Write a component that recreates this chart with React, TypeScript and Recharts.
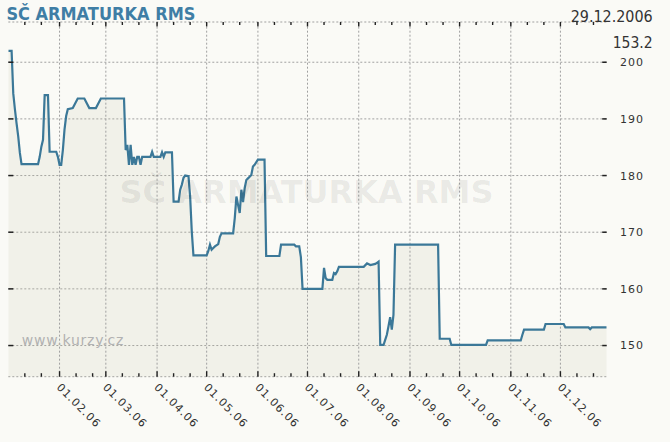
import React from 'react';
import { ComposedChart, Area, Line, XAxis, YAxis, CartesianGrid, ReferenceLine } from 'recharts';

const title = 'SČ ARMATURKA RMS';
const lastDate = '29.12.2006';
const lastPrice = '153.2';
const source = 'www.kurzy.cz';

// dd.mm (2006) of every point where the price line changes course
const dates = [
  '01.01', '03.01', '04.01', '05.01', '06.01', '07.01', '08.01', '09.01', '19.01', '20.01',
  '21.01', '22.01', '23.01', '25.01', '26.01', '30.01', '31.01', '01.02', '02.02', '03.02',
  '04.02', '05.02', '06.02', '09.02', '12.02', '16.02', '19.02', '23.02', '26.02', '12.03',
  '13.03', '14.03', '15.03', '16.03', '17.03', '18.03', '19.03', '20.03', '21.03', '22.03',
  '23.03', '28.03', '29.03', '30.03', '03.04', '04.04', '05.04', '06.04', '10.04', '11.04',
  '14.04', '15.04', '16.04', '17.04', '18.04', '20.04', '21.04', '22.04', '23.04', '01.05',
  '02.05', '03.05', '04.05', '05.05', '06.05', '08.05', '09.05', '10.05', '17.05', '18.05',
  '19.05', '20.05', '21.05', '22.05', '23.05', '24.05', '25.05', '26.05', '27.05', '28.05',
  '29.05', '30.05', '01.06', '05.06', '06.06', '14.06', '15.06', '23.06', '24.06', '26.06',
  '27.06', '28.06', '10.07', '11.07', '12.07', '13.07', '16.07', '17.07', '18.07', '19.07',
  '20.07', '04.08', '06.08', '08.08', '11.08', '12.08', '13.08', '14.08', '16.08', '17.08',
  '18.08', '19.08', '20.08', '21.08', '22.08', '23.08', '18.09', '19.09', '25.09', '26.09',
  '17.10', '18.10', '07.11', '08.11', '09.11', '21.11', '22.11', '03.12', '04.12', '18.12',
  '19.12', '20.12', '29.12',
];

const prices = [
  202, 202, 194.5, 191.7, 189.2, 186.9, 184, 182, 182, 183.3,
  185.1, 186.3, 194.2, 194.2, 184.2, 184.2, 183.3, 181.9, 181.9, 184.5,
  188.1, 190.5, 191.7, 191.9, 193.6, 193.6, 191.9, 191.9, 193.6, 193.6,
  184.5, 185.4, 181.9, 185.4, 181.9, 183.3, 181.9, 183.3, 183.3, 181.9,
  183.3, 183.3, 184.2, 183.3, 183.3, 184.1, 183.3, 184.1, 184.1, 175.4,
  175.4, 177.5, 178.4, 179.6, 180, 179.9, 176.3, 170.1, 165.9, 165.9,
  166.7, 167.8, 166.9, 167.2, 167.5, 167.9, 169.2, 169.8, 169.8, 172.5,
  176.3, 174.8, 173.4, 177.5, 175.3, 177.8, 179.2, 179.5, 179.8, 180.1,
  181.6, 181.9, 182.8, 182.8, 165.8, 165.8, 167.8, 167.8, 167.5, 167.5,
  165.6, 160, 160, 163.7, 161.9, 161.6, 161.6, 162.8, 162.6, 163.1,
  163.9, 163.9, 164.5, 164.2, 164.4, 164.6, 164.8, 150.1, 150.1, 151,
  151.9, 153.4, 155, 152.8, 155.4, 167.8, 167.8, 151.2, 151.2, 150.1,
  150.1, 150.9, 150.9, 151.9, 152.8, 152.8, 153.8, 153.8, 153.2, 153.2,
  152.9, 153.2, 153.2,
];

const yTicks = [150, 160, 170, 180, 190, 200];
const monthLabels = [
  '01.02.06', '01.03.06', '01.04.06', '01.05.06', '01.06.06', '01.07.06',
  '01.08.06', '01.09.06', '01.10.06', '01.11.06', '01.12.06',
];
const minorTickDays = [1, 11, 21];

const lineColor = '#3b7898';
const titleColor = '#3f7ea5';
const font = 'DejaVu Sans';

const toDay = (s: string) => {
  const [d, m] = s.split('.').map(Number);
  return (Date.UTC(2006, m - 1, d) - Date.UTC(2006, 0, 1)) / 86400000;
};

const data = dates.map((d, i) => ({ day: toDay(d), price: prices[i] }));
const lastDay = toDay('29.12');
const monthDays = monthLabels.map((l) => toDay(l.slice(0, 5)));
const xTicks: number[] = [];
for (let m = 1; m <= 12; m++) {
  minorTickDays.forEach((d) => {
    const day = toDay(`${d}.${m}`);
    if (day > 0 && day <= lastDay) xTicks.push(day);
  });
}

const BottomTick = (props: any) => {
  const { x, y, payload } = props;
  const idx = monthDays.indexOf(payload.value);
  const major = idx >= 0;
  return (
    <g>
      <line x1={x} x2={x} y1={y} y2={y - (major ? 5.5 : 3.5)} stroke="#222" strokeWidth={1.4} />
      {major && (
        <text
          transform={`translate(${x - 3.5},${y + 11.3}) rotate(45)`}
          fontFamily={font}
          fontSize={11}
          letterSpacing={1}
          fill="#333"
        >
          {monthLabels[idx]}
        </text>
      )}
    </g>
  );
};

const TopTick = (props: any) => {
  const { x, y, payload } = props;
  const major = monthDays.includes(payload.value);
  return <line x1={x} x2={x} y1={y} y2={y + (major ? 4.5 : 3)} stroke="#222" strokeWidth={1.4} />;
};

const RightTick = (props: any) => {
  const { x, y, payload } = props;
  return (
    <g>
      <line x1={x - 4.5} x2={x} y1={y} y2={y} stroke="#222" strokeWidth={1.5} />
      <text x={x + 13.3} y={y} dy="0.36em" fontFamily={font} fontSize={11} letterSpacing={1} fill="#333">
        {payload.value}
      </text>
    </g>
  );
};

const LeftTick = (props: any) => {
  const { x, y } = props;
  return <line x1={x} x2={x + 5} y1={y} y2={y} stroke="#222" strokeWidth={1.5} />;
};

export default function App() {
  return (
    <div style={{ position: 'absolute', left: 0, top: 0, width: 670, height: 442, background: '#fafaf6' }}>
      <ComposedChart width={670} height={442} data={data} margin={{ top: 21, right: 0, bottom: 0, left: 7.3 }}>
        <XAxis
          dataKey="day"
          type="number"
          domain={[0, lastDay]}
          allowDataOverflow
          ticks={xTicks}
          interval={0}
          height={65.3}
          tickSize={0}
          tickMargin={0}
          axisLine={false}
          tickLine={false}
          tick={(p: any) => <BottomTick {...p} />}
        />
        <XAxis
          xAxisId="top"
          orientation="top"
          dataKey="day"
          type="number"
          domain={[0, lastDay]}
          allowDataOverflow
          ticks={xTicks}
          interval={0}
          height={1}
          tickSize={0}
          tickMargin={0}
          axisLine={false}
          tickLine={false}
          tick={(p: any) => <TopTick {...p} />}
        />
        <YAxis
          orientation="right"
          type="number"
          domain={[144.5, 207.1]}
          allowDataOverflow
          ticks={yTicks}
          interval={0}
          width={63.3}
          tickSize={0}
          tickMargin={0}
          axisLine={false}
          tickLine={false}
          tick={(p: any) => <RightTick {...p} />}
        />
        <YAxis
          yAxisId="l"
          orientation="left"
          type="number"
          domain={[144.5, 207.1]}
          allowDataOverflow
          ticks={yTicks}
          interval={0}
          width={1}
          tickSize={0}
          tickMargin={0}
          axisLine={false}
          tickLine={false}
          tick={(p: any) => <LeftTick {...p} />}
        />
        <Area
          dataKey="price"
          type="linear"
          stroke="none"
          fill="rgb(200,200,165)"
          fillOpacity={0.16}
          isAnimationActive={false}
        />
        <CartesianGrid vertical={false} stroke="#a0a0a0" strokeDasharray="2 2" />
        {monthDays.map((d) => (
          <ReferenceLine key={d} x={d} stroke="#a0a0a0" strokeDasharray="2 2" />
        ))}
        <Line
          dataKey="price"
          type="linear"
          stroke={lineColor}
          strokeWidth={2.2}
          dot={false}
          isAnimationActive={false}
        />
      </ComposedChart>
      <svg width={670} height={442} style={{ position: 'absolute', left: 0, top: 0, pointerEvents: 'none' }}>
        <text x={306.5} y={203} textAnchor="middle" fontFamily={font} fontWeight="bold" fontSize={32} fill="rgba(0,0,0,0.075)">
          {title}
        </text>
        <text x={21.7} y={345} fontFamily={font} fontSize={14} letterSpacing={0.8} fill="#b2b2b2">
          {source}
        </text>
        <text
          x={6.4}
          y={19.5}
          fontFamily={font}
          fontWeight="bold"
          fontSize={18}
          textLength={189}
          lengthAdjust="spacingAndGlyphs"
          fill={titleColor}
        >
          {title}
        </text>
        <text x={570.7} y={21.7} fontFamily={font} fontSize={16} textLength={82} lengthAdjust="spacingAndGlyphs" fill="#333">
          {lastDate}
        </text>
        <text x={612.7} y={48.3} fontFamily={font} fontSize={16} textLength={40} lengthAdjust="spacingAndGlyphs" fill="#333">
          {lastPrice}
        </text>
      </svg>
    </div>
  );
}
